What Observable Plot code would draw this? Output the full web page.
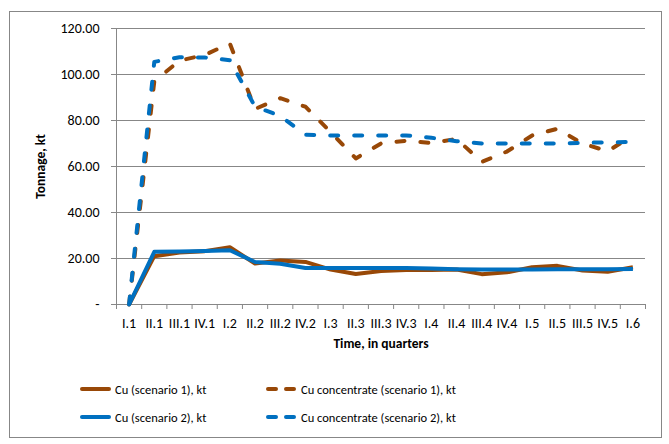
<!DOCTYPE html>
<html><head><meta charset="utf-8">
<script src="https://cdn.jsdelivr.net/npm/d3@7"></script>
<script src="https://cdn.jsdelivr.net/npm/@observablehq/plot@0.6"></script>
<style>
body{margin:0;background:#fff;font-family:Calibri,Carlito,Lato,sans-serif;}
#wrap{position:relative;width:669px;height:444px;overflow:hidden;}
#frame{position:absolute;left:9px;top:11px;width:653px;height:427px;border:1px solid #878787;box-sizing:border-box;}
#chart{position:absolute;left:0;top:0;}
.lg{position:absolute;display:flex;align-items:center;font-size:12.5px;color:#000;white-space:nowrap;}
.lg svg{margin-right:4px;}
</style></head>
<body>
<div id="wrap"><div id="frame"></div><div id="chart"></div><div id="legend"></div></div>
<script>
const labels = ["I.1","II.1","III.1","IV.1","I.2","II.2","III.2","IV.2","I.3","II.3","III.3","IV.3","I.4","II.4","III.4","IV.4","I.5","II.5","III.5","IV.5","I.6"];
const cuS1 = [0,21.0,22.6,23.2,24.9,17.8,19.1,18.5,15.2,13.3,14.6,15.0,15.0,15.2,13.2,14.0,16.2,16.8,14.8,14.2,16.2];
const concS1 = [0,97.0,106.0,108.5,113.5,85.0,89.7,86.0,75.0,63.5,70.0,71.2,70.2,72.0,62.0,66.5,73.5,76.4,70.0,66.6,73.6];
const cuS2 = [0,22.9,23.0,23.3,23.6,18.5,17.7,15.9,15.9,15.9,15.9,15.9,15.6,15.3,15.2,15.2,15.2,15.3,15.3,15.3,15.4];
const concS2 = [0,105.5,107.5,107.4,106.2,86.0,82.0,73.8,73.5,73.5,73.5,73.5,72.5,71.0,70.0,70.0,70.0,70.0,70.3,70.5,70.7];
const yTicks = [0,20,40,60,80,100,120];
const seriesNames = ["Cu (scenario 1), kt","Cu concentrate (scenario 1), kt","Cu (scenario 2), kt","Cu concentrate (scenario 2), kt"];

const BROWN = "#984807", BLUE = "#0070C0", GRAY = "#878787";
const series = [
  {name: seriesNames[0], values: cuS1, color: BROWN, dash: null},
  {name: seriesNames[1], values: concS1, color: BROWN, dash: "8,16"},
  {name: seriesNames[2], values: cuS2, color: BLUE, dash: null},
  {name: seriesNames[3], values: concS2, color: BLUE, dash: "8,16"}
];
const rows = s => s.values.map((v, i) => ({x: i + 0.5, y: v}));
const bounds = labels.map((d, i) => i).concat([labels.length]);
const centers = labels.map((d, i) => i + 0.5);

const chart = Plot.plot({
  width: 669, height: 364,
  marginLeft: 116, marginRight: 24, marginTop: 28, marginBottom: 60,
  style: {fontFamily: "Calibri, Carlito, Lato, sans-serif", background: "transparent"},
  x: {type: "linear", domain: [0, labels.length]},
  y: {domain: [0, 120]},
  marks: [
    Plot.gridY({ticks: yTicks, stroke: GRAY, strokeOpacity: 1, strokeWidth: 1}),
    Plot.ruleX([0], {stroke: GRAY}),
    Plot.ruleY([0], {stroke: GRAY}),
    Plot.axisY({ticks: yTicks, tickSize: 5, tickPadding: 12, stroke: GRAY, strokeOpacity: 1, fill: "#000", fontSize: 14,
      tickFormat: d => d === 0 ? "-" : d.toFixed(2), label: null}),
    Plot.axisX({ticks: bounds, tickSize: 5, stroke: GRAY, strokeOpacity: 1, tickFormat: () => "", label: null}),
    Plot.axisX({ticks: centers, tickSize: 0, tickPadding: 14, fill: "#000", fontSize: 14,
      tickFormat: v => labels[Math.floor(v)], label: null}),
    Plot.text(["Time, in quarters"], {frameAnchor: "bottom", dy: 43, fontWeight: "bold", fontSize: 13.5, fill: "#000"}),
    Plot.text(["Tonnage, kt"], {frameAnchor: "left", dx: -76, rotate: -90, textAnchor: "middle", fontWeight: "bold", fontSize: 13.5, fill: "#000"}),
    ...series.map(s => Plot.line(rows(s), {x: "x", y: "y", stroke: s.color, strokeWidth: 4,
      strokeDasharray: s.dash, strokeLinecap: s.dash ? "round" : "butt", strokeLinejoin: "round"}))
  ]
});
document.getElementById("chart").appendChild(chart);

// legend (HTML, below the plot)
const legend = document.getElementById("legend");
const pos = [[80, 389], [266, 389], [80, 417], [266, 417]];
series.forEach((s, k) => {
  const div = document.createElement("div");
  div.className = "lg";
  div.style.left = pos[k][0] + "px";
  div.style.top = (pos[k][1] - 9) + "px";
  div.style.height = "18px";
  const svg = d3.create("svg").attr("width", 31).attr("height", 8);
  svg.append("line").attr("x1", 2).attr("x2", 29).attr("y1", 4).attr("y2", 4)
    .attr("stroke", s.color).attr("stroke-width", 4)
    .attr("stroke-linecap", "round")
    .attr("stroke-dasharray", s.dash ? "8,10" : null);
  div.appendChild(svg.node());
  const t = document.createElement("span");
  t.textContent = s.name;
  div.appendChild(t);
  legend.appendChild(div);
});
</script>
</body></html>
